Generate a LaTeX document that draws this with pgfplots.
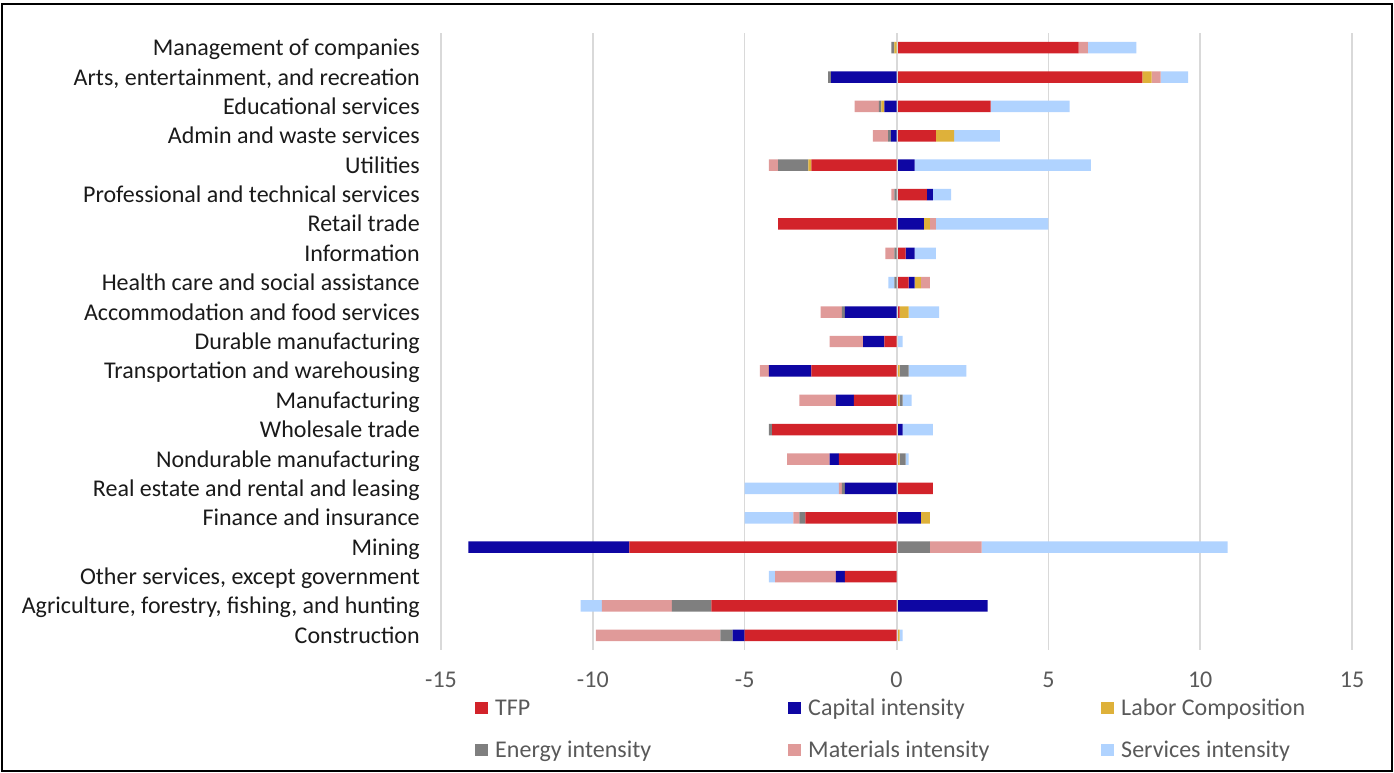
\documentclass[border=0pt]{standalone}
\usepackage{pgfplots}
\usepackage{pgfplotstable}
\pgfplotsset{compat=1.18}
\usepackage{fontspec}
\setmainfont{Carlito}

\definecolor{cTFP}{HTML}{D2232A}
\definecolor{cCap}{HTML}{0E06A3}
\definecolor{cLab}{HTML}{DEB13A}
\definecolor{cEne}{HTML}{7F7F7F}
\definecolor{cMat}{HTML}{E09A99}
\definecolor{cSvc}{HTML}{B0D3FF}
\definecolor{gridgray}{HTML}{D9D9D9}
\definecolor{labelgray}{HTML}{595959}
\definecolor{catblack}{HTML}{1A1A1A}

% Contributions by industry, percentage points (rows bottom to top)
\pgfplotstableread{
idx  TFP   Cap    Lab    Ene    Mat   Svc
0   -5.0  -0.4    0.1   -0.4   -4.1   0.1
1   -6.1   3.0    0.0   -1.3   -2.3  -0.7
2   -1.7  -0.3    0.0    0.0   -2.0  -0.2
3   -8.8  -5.3    0.0    1.1    1.7   8.1
4   -3.0   0.8    0.3   -0.2   -0.2  -1.6
5    1.2  -1.7    0.0   -0.1   -0.1  -3.1
6   -1.9  -0.3    0.1    0.2   -1.4   0.1
7   -4.1   0.2    0.0   -0.1    0.0   1.0
8   -1.4  -0.6    0.1    0.1   -1.2   0.3
9   -2.8  -1.4    0.1    0.3   -0.3   1.9
10  -0.4  -0.7    0.0    0.0   -1.1   0.2
11   0.1  -1.7    0.3   -0.1   -0.7   1.0
12   0.4   0.2    0.2   -0.07   0.3  -0.2
13   0.3   0.3    0.0   -0.07  -0.3   0.7
14  -3.9   0.9    0.2    0.0    0.2   3.7
15   1.0   0.2    0.0   -0.07  -0.1   0.6
16  -2.8   0.6   -0.1   -1.0   -0.3   5.8
17   1.3  -0.18   0.6   -0.1   -0.5   1.5
18   3.1  -0.4   -0.1   -0.08  -0.8   2.6
19   8.1  -2.15   0.3   -0.1    0.3   0.9
20   6.0   0.0   -0.07  -0.1    0.3   1.6
}\growth

\pgfplotsset{
  baseaxis/.style={
    scale only axis, width=683.25pt, height=462.75pt,
    at={(0pt,0pt)}, anchor=south west,
    xmin=-15, xmax=15, ymin=-0.5, ymax=20.5,
    xbar stacked, bar width=8.6pt,
  },
}

% legend entry: colour key on the baseline, then the series name, in a fixed-width cell
\newcommand{\legkey}[2]{\makebox[234.75pt][l]{\textcolor{#1}{\rule[0.75pt]{9.5pt}{9.5pt}}\hspace{5.5pt}#2}}

\begin{document}
\begin{tikzpicture}
\useasboundingbox (-330.75pt,-92.25pt) rectangle (714.75pt,487.5pt);

% positive contributions, stacked rightwards from zero
\begin{axis}[baseaxis,
  axis line style={draw=none},
  xtick={-15,-10,...,15}, ytick={0,...,20},
  yticklabels={Construction,
    {Agriculture, forestry, fishing, and hunting},
    {Other services, except government},
    Mining, Finance and insurance,
    Real estate and rental and leasing,
    Nondurable manufacturing, Wholesale trade, Manufacturing,
    Transportation and warehousing, Durable manufacturing,
    Accommodation and food services,
    Health care and social assistance, Information, Retail trade,
    Professional and technical services, Utilities,
    Admin and waste services, Educational services,
    {Arts, entertainment, and recreation},
    Management of companies},
  xmajorgrids, major grid style={color=gridgray, line width=1.2pt},
  major tick length=0pt, tick style={draw=none},
  /pgf/number format/assume math mode=true,
  tick label style={font=\fontsize{18}{21.6}\selectfont},
  xticklabel style={text=labelgray, anchor=base, inner sep=0pt, yshift=-28.5pt},
  yticklabel style={text=catblack, anchor=base east, inner sep=0pt, xshift=-15.75pt, yshift=-6pt},
  legend image code/.code={},
  legend style={at={(axis description cs:0.0373,-0.0729)}, anchor=north west,
    draw=none, fill=none, inner sep=0pt,
    font=\fontsize{18}{21.6}\selectfont, text=labelgray,
    legend columns=3, /tikz/column sep=0pt, /tikz/row sep=11.5pt,
    nodes={inner sep=0pt, text height=15pt, text depth=5pt}},
  legend cell align=left,
]
\addplot[fill=cTFP, draw=none] table[x expr={max(\thisrow{TFP},0)}, y=idx]{\growth};
\addlegendentry{\legkey{cTFP}{TFP}}
\addplot[fill=cCap, draw=none] table[x expr={max(\thisrow{Cap},0)}, y=idx]{\growth};
\addlegendentry{\legkey{cCap}{Capital intensity}}
\addplot[fill=cLab, draw=none] table[x expr={max(\thisrow{Lab},0)}, y=idx]{\growth};
\addlegendentry{\legkey{cLab}{Labor Composition}}
\addplot[fill=cEne, draw=none] table[x expr={max(\thisrow{Ene},0)}, y=idx]{\growth};
\addlegendentry{\legkey{cEne}{Energy intensity}}
\addplot[fill=cMat, draw=none] table[x expr={max(\thisrow{Mat},0)}, y=idx]{\growth};
\addlegendentry{\legkey{cMat}{Materials intensity}}
\addplot[fill=cSvc, draw=none] table[x expr={max(\thisrow{Svc},0)}, y=idx]{\growth};
\addlegendentry{\legkey{cSvc}{Services intensity}}
\end{axis}

% negative contributions, stacked leftwards from zero
\begin{axis}[baseaxis, hide axis]
\addplot[fill=cTFP, draw=none] table[x expr={min(\thisrow{TFP},0)}, y=idx]{\growth};
\addplot[fill=cCap, draw=none] table[x expr={min(\thisrow{Cap},0)}, y=idx]{\growth};
\addplot[fill=cLab, draw=none] table[x expr={min(\thisrow{Lab},0)}, y=idx]{\growth};
\addplot[fill=cEne, draw=none] table[x expr={min(\thisrow{Ene},0)}, y=idx]{\growth};
\addplot[fill=cMat, draw=none] table[x expr={min(\thisrow{Mat},0)}, y=idx]{\growth};
\addplot[fill=cSvc, draw=none] table[x expr={min(\thisrow{Svc},0)}, y=idx]{\growth};
\draw[gridgray, line width=1.5pt] (axis cs:0,-0.5) -- (axis cs:0,20.5);
\end{axis}

% chart frame
\draw[black, line width=1.5pt] (-329.25pt,-90.75pt) rectangle (713.25pt,484.5pt);
\end{tikzpicture}
\end{document}
